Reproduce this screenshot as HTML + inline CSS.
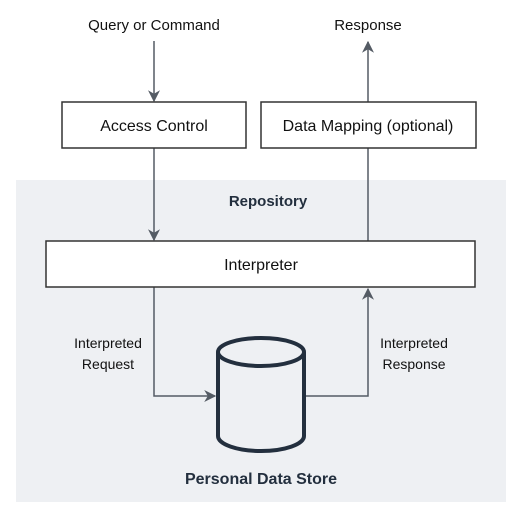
<!DOCTYPE html>
<html><head><meta charset="utf-8"><style>
html,body{margin:0;padding:0;background:#fff;}
svg{display:block;font-family:"Liberation Sans",Arial,sans-serif;}
</style></head><body>
<svg width="527" height="520" viewBox="0 0 527 520" xmlns="http://www.w3.org/2000/svg">
<defs>
<marker id="ah" viewBox="0 0 10 10" refX="9" refY="5" markerWidth="12" markerHeight="12" markerUnits="userSpaceOnUse" orient="auto">
<path d="M0,0 L10,5 L0,10 L3,5 z" fill="#545b64"/></marker>
</defs>
<rect x="16" y="180" width="490" height="322" fill="#eef0f3"/>
<text x="154" y="30" font-size="15" text-anchor="middle" fill="#111">Query or Command</text>
<text x="368" y="30" font-size="15" text-anchor="middle" fill="#111">Response</text>
<g stroke="#545b64" stroke-width="1.5" fill="none">
<line x1="154" y1="41" x2="154" y2="101" marker-end="url(#ah)"/>
<line x1="154" y1="148" x2="154" y2="240" marker-end="url(#ah)"/>
<line x1="368" y1="102" x2="368" y2="42" marker-end="url(#ah)"/>
<line x1="368" y1="241" x2="368" y2="148"/>
<polyline points="154,287 154,396 215,396" marker-end="url(#ah)"/>
<polyline points="305,396 368,396 368,289" marker-end="url(#ah)"/>
</g>
<rect x="62" y="102" width="184" height="46" fill="#fff" stroke="#333" stroke-width="1.5"/>
<text x="154" y="131" font-size="16" text-anchor="middle" fill="#111">Access Control</text>
<rect x="261" y="102" width="215" height="46" fill="#fff" stroke="#333" stroke-width="1.5"/>
<text x="368" y="131" font-size="16" text-anchor="middle" fill="#111">Data Mapping (optional)</text>
<text x="268" y="206" font-size="15" font-weight="bold" text-anchor="middle" fill="#232f3e">Repository</text>
<rect x="46" y="241" width="429" height="46" fill="#fff" stroke="#333" stroke-width="1.5"/>
<text x="261" y="270" font-size="16" text-anchor="middle" fill="#111">Interpreter</text>
<text x="108" y="348" font-size="14" text-anchor="middle" fill="#111">Interpreted</text>
<text x="108" y="369" font-size="14" text-anchor="middle" fill="#111">Request</text>
<text x="414" y="348" font-size="14" text-anchor="middle" fill="#111">Interpreted</text>
<text x="414" y="369" font-size="14" text-anchor="middle" fill="#111">Response</text>
<g stroke="#232f3e" stroke-width="4" fill="none">
<ellipse cx="261" cy="352" rx="43" ry="14"/>
<path d="M218,352 L218,436 A43,15 0 0 0 304,436 L304,352"/>
</g>
<text x="261" y="484" font-size="16" font-weight="bold" text-anchor="middle" fill="#232f3e">Personal Data Store</text>
</svg>
</body></html>
